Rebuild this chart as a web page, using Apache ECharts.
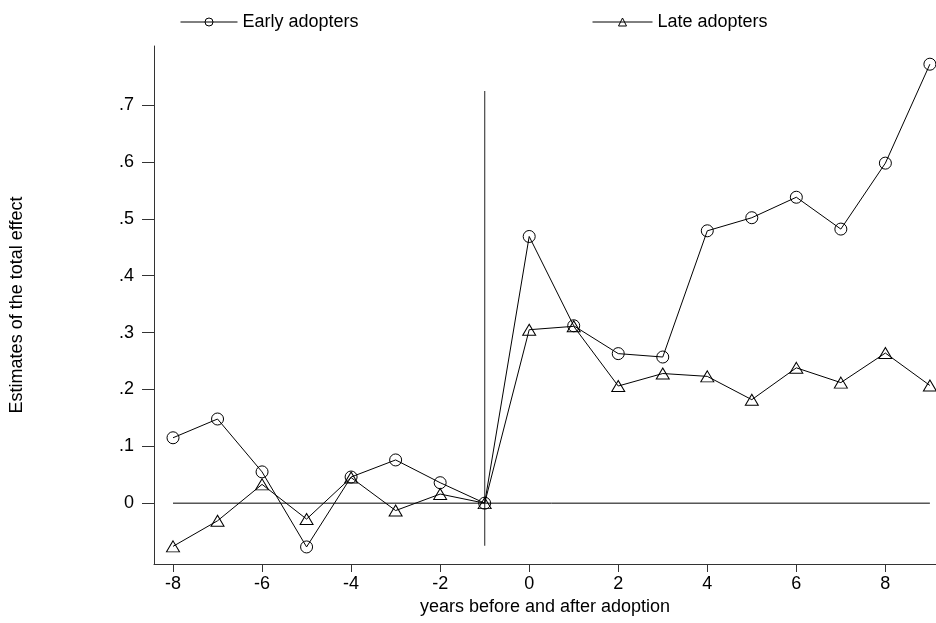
<!DOCTYPE html>
<html>
<head>
<meta charset="utf-8">
<script src="https://cdn.jsdelivr.net/npm/echarts@6/dist/echarts.min.js"></script>
<style>
  html, body { margin: 0; padding: 0; background: #fff; }
  #chart { width: 936px; height: 623px; }
</style>
</head>
<body>
<div id="chart"></div>
<script>
// Event-time estimates, years relative to adoption
const years = [-8, -7, -6, -5, -4, -3, -2, -1, 0, 1, 2, 3, 4, 5, 6, 7, 8, 9];
const earlyAdopters = [0.115, 0.148, 0.055, -0.077, 0.046, 0.076, 0.036, 0,
  0.469, 0.312, 0.263, 0.257, 0.479, 0.502, 0.538, 0.482, 0.598, 0.772];
const lateAdopters = [-0.076, -0.031, 0.033, -0.028, 0.045, -0.013, 0.016, 0,
  0.305, 0.311, 0.206, 0.228, 0.223, 0.182, 0.238, 0.212, 0.264, 0.207];

const xTicks = [-8, -6, -4, -2, 0, 2, 4, 6, 8];
const yTicks = [0, 0.1, 0.2, 0.3, 0.4, 0.5, 0.6, 0.7];

// Reference lines: zero effect and the adoption year
const zeroLine = [[-8, 0], [9, 0]];
const adoptionLine = [[-1, -0.075], [-1, 0.725]];

const font = 'Liberation Sans, Arial, Helvetica, sans-serif';
const pairs = (ys) => years.map((x, i) => [x, ys[i]]);

const legendCommon = {
  top: 13, padding: 0, itemGap: 4, itemHeight: 10,
  lineStyle: { width: 1, color: '#000' },
  itemStyle: { color: 'rgba(0,0,0,0)', borderColor: '#000', borderWidth: 1 },
  textStyle: { fontFamily: font, fontSize: 18, color: '#000' }
};

const chart = echarts.init(document.getElementById('chart'), null, { renderer: 'canvas' });
chart.setOption({
  animation: false,
  backgroundColor: '#fff',
  textStyle: { fontFamily: font, color: '#000' },
  grid: { left: 154, right: 0, top: 46, bottom: 59, containLabel: false },
  legend: [
    Object.assign({ data: ['Early adopters'], left: 180, itemWidth: 57 }, legendCommon),
    Object.assign({ data: ['Late adopters'], left: 592, itemWidth: 60 }, legendCommon)
  ],
  xAxis: {
    type: 'value', min: -8.427, max: 9.137,
    name: 'years before and after adoption', nameLocation: 'middle', nameGap: 33,
    nameTextStyle: { fontFamily: font, fontSize: 18, color: '#000' },
    axisLine: { show: true, onZero: false, lineStyle: { color: '#333', width: 1 } },
    axisTick: { show: true, length: 8, customValues: xTicks, lineStyle: { color: '#333' } },
    axisLabel: { customValues: xTicks, margin: 11, fontFamily: font, fontSize: 18, color: '#000' },
    splitLine: { show: false }
  },
  yAxis: {
    type: 'value', min: -0.107, max: 0.804,
    name: 'Estimates of the total effect', nameLocation: 'middle', nameGap: 128,
    nameTextStyle: { fontFamily: font, fontSize: 18, color: '#000' },
    axisLine: { show: true, onZero: false, lineStyle: { color: '#333', width: 1 } },
    axisTick: { show: true, length: 12, customValues: yTicks, lineStyle: { color: '#333' } },
    axisLabel: {
      customValues: yTicks, margin: 20, fontFamily: font, fontSize: 18, color: '#000',
      formatter: (v) => (v === 0 ? '0' : String(+v.toFixed(1)).replace(/^0/, ''))
    },
    splitLine: { show: false }
  },
  series: [
    {
      name: 'zero', type: 'line', data: zeroLine, silent: true, symbol: 'none',
      lineStyle: { color: '#000', width: 1 }, z: 1
    },
    {
      name: 'adoption', type: 'line', data: adoptionLine, silent: true, symbol: 'none',
      lineStyle: { color: '#555', width: 1.3 }, z: 1
    },
    {
      name: 'Early adopters', type: 'line', data: pairs(earlyAdopters),
      symbol: 'circle', symbolSize: 12,
      itemStyle: { color: 'rgba(0,0,0,0)', borderColor: '#000', borderWidth: 1 },
      lineStyle: { color: '#000', width: 1 }, z: 3
    },
    {
      name: 'Late adopters', type: 'line', data: pairs(lateAdopters),
      symbol: 'triangle', symbolSize: [13, 11],
      itemStyle: { color: 'rgba(0,0,0,0)', borderColor: '#000', borderWidth: 1 },
      lineStyle: { color: '#000', width: 1 }, z: 3
    }
  ]
});
</script>
</body>
</html>
